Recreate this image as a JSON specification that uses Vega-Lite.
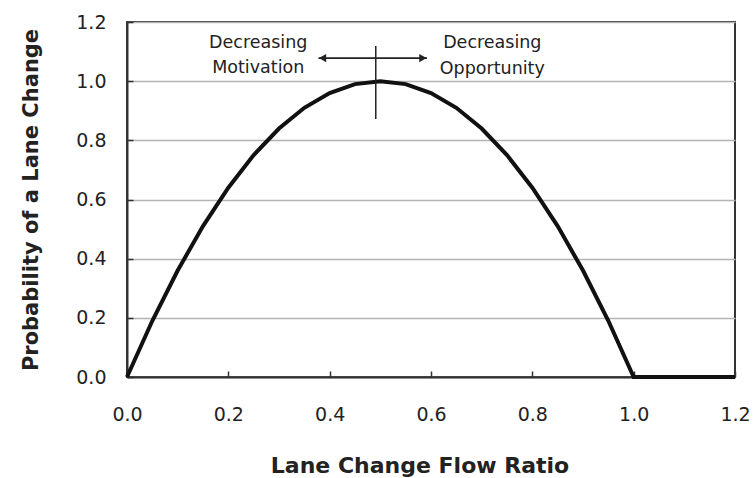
{
  "$schema": "https://vega.github.io/schema/vega-lite/v6.json",
  "width": 608,
  "height": 355,
  "autosize": {"type": "none"},
  "padding": {"left": 127, "top": 22, "right": 19, "bottom": 101},
  "background": "white",
  "config": {
    "font": "DejaVu Sans",
    "view": {"stroke": "#333333", "strokeWidth": 2},
    "axis": {
      "domainColor": "#333333",
      "domainWidth": 2,
      "tickColor": "#333333",
      "tickWidth": 1.5,
      "tickSize": -6,
      "labelFlush": false,
      "labelOverlap": false,
      "labelFont": "DejaVu Sans",
      "labelFontSize": 19,
      "labelColor": "#222222",
      "titleFont": "DejaVu Sans",
      "titleFontSize": 22,
      "titleFontWeight": "bold",
      "titleColor": "#222222"
    }
  },
  "datasets": {
    "curve": [
      {"ratio": 0.0, "prob": 0.0},
      {"ratio": 0.05, "prob": 0.19},
      {"ratio": 0.1, "prob": 0.36},
      {"ratio": 0.15, "prob": 0.51},
      {"ratio": 0.2, "prob": 0.64},
      {"ratio": 0.25, "prob": 0.75},
      {"ratio": 0.3, "prob": 0.84},
      {"ratio": 0.35, "prob": 0.91},
      {"ratio": 0.4, "prob": 0.96},
      {"ratio": 0.45, "prob": 0.99},
      {"ratio": 0.5, "prob": 1.0},
      {"ratio": 0.55, "prob": 0.99},
      {"ratio": 0.6, "prob": 0.96},
      {"ratio": 0.65, "prob": 0.91},
      {"ratio": 0.7, "prob": 0.84},
      {"ratio": 0.75, "prob": 0.75},
      {"ratio": 0.8, "prob": 0.64},
      {"ratio": 0.85, "prob": 0.51},
      {"ratio": 0.9, "prob": 0.36},
      {"ratio": 0.95, "prob": 0.19},
      {"ratio": 1.0, "prob": 0.0},
      {"ratio": 1.1, "prob": 0.0},
      {"ratio": 1.2, "prob": 0.0}
    ],
    "vline": [{"x": 0.491, "y": 0.872, "y2": 1.119}],
    "arrow": [{"x": 0.378, "x2": 0.592, "y": 1.078}],
    "heads": [
      {"x": 0.386, "y": 1.078, "shape": "triangle-left"},
      {"x": 0.584, "y": 1.078, "shape": "triangle-right"}
    ],
    "labels": [
      {"x": 0.259, "y": 1.129, "text": "Decreasing"},
      {"x": 0.259, "y": 1.045, "text": "Motivation"},
      {"x": 0.721, "y": 1.129, "text": "Decreasing"},
      {"x": 0.721, "y": 1.040, "text": "Opportunity"}
    ]
  },
  "layer": [
    {
      "data": {"name": "curve"},
      "mark": {"type": "line", "color": "#111111", "strokeWidth": 4, "strokeJoin": "miter"},
      "encoding": {
        "x": {
          "field": "ratio", "type": "quantitative",
          "scale": {"domain": [0, 1.2], "nice": false, "zero": false},
          "axis": {
            "title": "Lane Change Flow Ratio",
            "values": [0, 0.2, 0.4, 0.6, 0.8, 1.0, 1.2],
            "format": ".1f",
            "grid": false,
            "labelPadding": 34,
            "titleX": 292.5,
            "titleY": 95,
            "titleAlign": "center",
            "titleBaseline": "alphabetic"
          }
        },
        "y": {
          "field": "prob", "type": "quantitative",
          "scale": {"domain": [0, 1.2], "nice": false, "zero": false},
          "axis": {
            "title": "Probability of a  Lane Change",
            "titleFontSize": 21,
            "values": [0, 0.2, 0.4, 0.6, 0.8, 1.0, 1.2],
            "format": ".1f",
            "grid": true,
            "gridColor": "#b3b3b3",
            "gridWidth": 1.5,
            "labelPadding": 27,
            "titleX": -90,
            "titleY": 177.5,
            "titleAngle": 270,
            "titleAlign": "center",
            "titleBaseline": "alphabetic"
          }
        }
      }
    },
    {
      "data": {"name": "vline"},
      "mark": {"type": "rule", "color": "#222222", "strokeWidth": 1.5},
      "encoding": {
        "x": {"field": "x", "type": "quantitative"},
        "y": {"field": "y", "type": "quantitative"},
        "y2": {"field": "y2"}
      }
    },
    {
      "data": {"name": "arrow"},
      "mark": {"type": "rule", "color": "#222222", "strokeWidth": 1.8},
      "encoding": {
        "x": {"field": "x", "type": "quantitative"},
        "x2": {"field": "x2"},
        "y": {"field": "y", "type": "quantitative"}
      }
    },
    {
      "data": {"name": "heads"},
      "mark": {"type": "point", "filled": true, "color": "#222222", "size": 70, "opacity": 1},
      "encoding": {
        "x": {"field": "x", "type": "quantitative"},
        "y": {"field": "y", "type": "quantitative"},
        "shape": {"field": "shape", "type": "nominal", "scale": null}
      }
    },
    {
      "data": {"name": "labels"},
      "mark": {"type": "text", "font": "DejaVu Sans", "fontSize": 17.5, "color": "#222222", "align": "center", "baseline": "middle"},
      "encoding": {
        "x": {"field": "x", "type": "quantitative"},
        "y": {"field": "y", "type": "quantitative"},
        "text": {"field": "text"}
      }
    }
  ]
}
